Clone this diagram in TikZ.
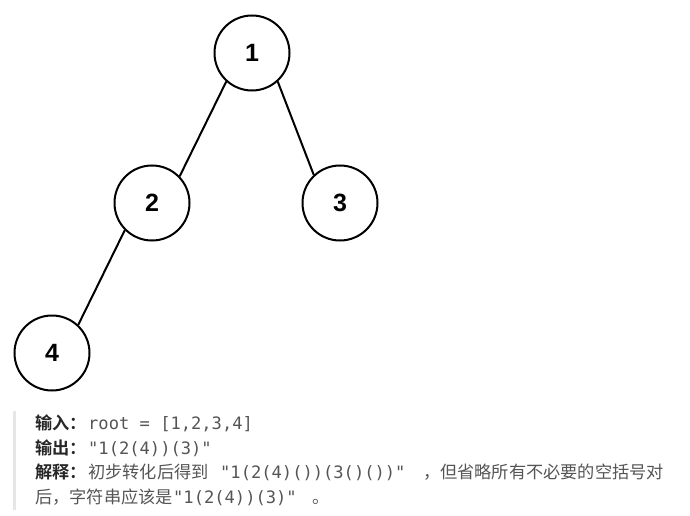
\documentclass[tikz,border=0pt]{standalone}
\usepackage{fontspec}
\setmainfont{Liberation Sans}
\newfontfamily\cjk{Noto Sans CJK SC}
\newfontfamily\cjkbold{Noto Sans CJK SC Bold}
\newfontfamily\codefont{DejaVu Sans Mono}
\definecolor{labelc}{HTML}{262626}
\definecolor{textc}{HTML}{555555}
\definecolor{barc}{HTML}{E6E6E6}
\begin{document}
\begin{tikzpicture}[x=1pt,y=-1pt,
  treenode/.style={circle,draw=black,line width=2pt,minimum size=75pt,inner sep=0pt,font=\fontsize{25}{25}\selectfont\bfseries},
  edge/.style={draw=black,line width=2pt},
  txt/.style={anchor=base west,inner sep=0pt,text=textc,font=\fontsize{17.2}{17.2}\selectfont\cjk},
  lbl/.style={txt,text=labelc,font=\fontsize{17.2}{17.2}\selectfont\cjkbold},
  code/.style={txt,font=\fontsize{17.1}{17.1}\selectfont\codefont}]
\useasboundingbox (0,0) rectangle (690,516);
\node[treenode] (n1) at (252,53) {1};
\node[treenode] (n2) at (152,203) {2};
\node[treenode] (n3) at (340,203) {3};
\node[treenode] (n4) at (52,353) {4};
\draw[edge] (n1.228) -- (n2.44);
\draw[edge] (n1.312) -- (n3.133);
\draw[edge] (n2.225) -- (n4.47);
\fill[barc] (13,411) rectangle (16,510);
\node[lbl] (a1) at (35,429) {输入：};
\node[code] (a2) at (88,429) {root = [1,2,3,4]};
\node[lbl] (b1) at (35,454) {输出：};
\node[code] (b2) at (88,454) {"1(2(4))(3)"};
\node[lbl] (c1) at (35,478) {解释：};
\node[txt] (c2) at (88,478) {初步转化后得到};
\node[code] (c3) at (220,478) {"1(2(4)())(3()())"};
\node[txt,anchor=base east] (c4) at (664,478) {，但省略所有不必要的空括号对};
\node[txt] (d1) at (35,503) {后，字符串应该是};
\node[code] (d2) at (173,503) {"1(2(4))(3)"};
\node[txt] (d3) at (312,503) {。};
\end{tikzpicture}
\end{document}
